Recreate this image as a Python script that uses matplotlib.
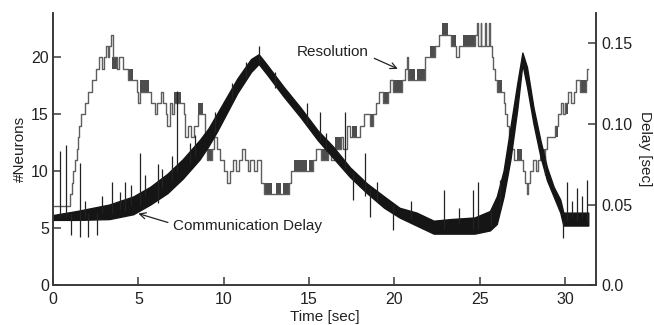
import matplotlib.pyplot as plt

plt.rcParams['font.family'] = ['Liberation Sans', 'DejaVu Sans']

# 分解能 (#Neurons) の階段状データ
res_t = [0.0, 1.0, 1.1, 1.2, 1.3, 1.38, 1.46, 1.55, 1.65, 1.85,
         2.05, 2.3, 2.5, 2.7, 2.9, 3.0, 3.1, 3.2, 3.3, 3.4,
         3.5, 3.75, 3.85, 4.1, 4.4, 4.7, 4.9, 5.0, 5.1, 5.65,
         5.75, 5.95, 6.1, 6.3, 6.45, 6.6, 6.7, 6.85, 7.0, 7.1,
         7.5, 7.65, 7.75, 7.9, 8.1, 8.25, 8.5, 8.8, 8.9, 9.0,
         9.3, 9.45, 9.6, 9.8, 10.0, 10.2, 10.35, 10.55, 10.75, 10.9,
         11.1, 11.25, 11.4, 11.55, 11.8, 11.95, 12.2, 12.35, 13.8, 13.95,
         14.1, 15.25, 15.4, 15.7, 16.1, 16.3, 16.5, 16.9, 17.0, 17.2,
         17.4, 17.5, 17.8, 18.0, 18.2, 18.6, 18.75, 18.9, 19.1, 19.35,
         19.6, 19.75, 19.9, 20.45, 20.6, 20.75, 20.8, 21.8, 22.1, 22.4,
         22.6, 22.8, 23.15, 23.3, 23.6, 23.8, 24.0, 24.7, 24.85, 24.9,
         25.05, 25.1, 25.3, 25.35, 25.55, 25.6, 25.7, 25.8, 25.9, 26.0,
         26.3, 26.4, 26.5, 26.6, 26.7, 26.85, 27.0, 27.2, 27.5, 27.55,
         27.65, 27.75, 27.85, 27.95, 28.1, 28.3, 28.4, 28.55, 28.85, 28.95,
         29.15, 29.4, 29.6, 29.75, 29.85, 30.0, 30.2, 30.35, 30.5, 30.65,
         30.9, 31.2, 31.3, 31.36]
res_n = [7, 8, 9, 10, 11, 12, 13, 14, 15, 16,
         17, 18, 19, 20, 19, 20, 21, 20, 21, 22,
         20, 19, 20, 19, 18, 18, 17, 16, 17, 17,
         16, 15, 16, 17, 16, 15, 14, 16, 15, 16,
         16, 15, 13, 14, 13, 14, 15, 15, 12, 11,
         12, 13, 12, 11, 10, 9, 10, 11, 10, 11,
         12, 11, 10, 11, 10, 11, 9, 8, 9, 10,
         10, 11, 12, 11, 12, 11, 12, 13, 12, 14,
         13, 13, 13, 14, 15, 14, 15, 16, 17, 16,
         17, 18, 17, 18, 19, 20, 18, 20, 20, 21,
         22, 22, 22, 21, 20, 21, 21, 22, 23, 21,
         23, 21, 23, 21, 23, 21, 20, 19, 18, 17,
         17, 16, 15, 14, 13, 12, 11, 11, 11, 10,
         9, 8, 9, 10, 11, 10, 11, 11, 12, 13,
         13, 14, 15, 16, 15, 16, 17, 16, 17, 18,
         17, 18, 19, 19]

# 値が細かく振動して塗りつぶしに見える区間
blk_t0 = [3.45, 4.4, 5.1, 7.1, 8.5, 9.0, 12.35, 13.05, 13.45, 14.1, 15.0, 15.7,
          16.5, 17.5, 18.6, 19.35, 19.9, 20.8, 21.35, 22.1, 22.8, 23.3, 24.0,
          26.0, 27.2, 28.55, 29.4, 30.0, 30.9]
blk_t1 = [3.75, 4.7, 5.65, 7.5, 8.8, 9.3, 12.85, 13.35, 13.8, 14.9, 15.25, 16.1,
          16.9, 17.8, 18.75, 19.6, 20.45, 21.2, 21.8, 22.4, 23.15, 23.6, 24.7,
          26.3, 27.5, 28.85, 29.6, 30.2, 31.2]
blk_lo = [19, 18, 17, 16, 15, 11, 8, 8, 8, 10, 10, 11,
          12, 13, 14, 16, 17, 18, 18, 20, 22, 21, 21,
          17, 11, 11, 13, 15, 17]

# 通信遅延 (秒): ノイズの帯の下端と上端
delay_t = [0.0, 1.4, 3.3, 4.7, 5.7, 6.7, 7.6, 8.6, 9.1, 9.6,
           10.2, 10.8, 11.6, 12.05, 12.5, 13.5, 14.5, 15.5, 16.4, 17.4,
           18.4, 19.4, 20.3, 21.3, 22.3, 23.3, 24.7, 25.6, 26.0, 26.4,
           26.8, 27.2, 27.5, 27.77, 28.15, 28.55, 28.94, 29.33, 29.72, 29.9,
           31.36]
delay_lo = [0.0405, 0.0405, 0.041, 0.044, 0.050, 0.057, 0.066, 0.078, 0.086, 0.095,
            0.107, 0.119, 0.132, 0.137, 0.131, 0.117, 0.104, 0.090, 0.079, 0.067,
            0.057, 0.048, 0.042, 0.037, 0.032, 0.032, 0.032, 0.034, 0.038, 0.055,
            0.078, 0.109, 0.137, 0.123, 0.100, 0.080, 0.065, 0.055, 0.045, 0.037,
            0.037]
delay_hi = [0.0435, 0.046, 0.050, 0.055, 0.061, 0.069, 0.078, 0.090, 0.097, 0.106,
            0.117, 0.128, 0.140, 0.143, 0.137, 0.123, 0.110, 0.096, 0.086, 0.073,
            0.063, 0.055, 0.048, 0.045, 0.040, 0.041, 0.042, 0.046, 0.055, 0.071,
            0.098, 0.125, 0.144, 0.135, 0.110, 0.090, 0.073, 0.061, 0.053, 0.045,
            0.045]

# 遅延のスパイク
spk_t = [0.41, 0.76, 1.05, 1.58, 2.07, 2.56, 3.44, 4.22, 5.1, 6.16,
         7.25, 9.5, 12.05, 14.9, 15.65, 17.1, 17.6, 18.3, 18.55, 19.9,
         22.9, 24.6, 24.9, 25.65, 29.9, 30.1, 30.7, 31.3,
         1.9, 2.9, 3.9, 4.6, 5.4, 6.4, 7.0, 8.0, 8.3, 10.5,
         11.3, 13.0, 16.0, 19.0, 21.0, 23.8, 26.2, 28.8, 30.4, 31.0]
spk_lo = [0.042, 0.042, 0.031, 0.030, 0.030, 0.031, 0.045, 0.046, 0.050, 0.051,
          0.070, 0.095, 0.138, 0.100, 0.090, 0.072, 0.053, 0.055, 0.042, 0.034,
          0.035, 0.035, 0.035, 0.036, 0.029, 0.040, 0.040, 0.040,
          0.042, 0.045, 0.047, 0.050, 0.055, 0.060, 0.065, 0.075, 0.080, 0.115,
          0.128, 0.122, 0.083, 0.052, 0.041, 0.038, 0.048, 0.068, 0.042, 0.042]
spk_hi = [0.083, 0.087, 0.045, 0.076, 0.045, 0.045, 0.064, 0.064, 0.082, 0.075,
          0.120, 0.107, 0.148, 0.113, 0.107, 0.107, 0.070, 0.082, 0.060, 0.050,
          0.059, 0.059, 0.064, 0.046, 0.040, 0.064, 0.060, 0.065,
          0.052, 0.055, 0.058, 0.062, 0.068, 0.072, 0.080, 0.088, 0.093, 0.125,
          0.138, 0.132, 0.094, 0.064, 0.052, 0.048, 0.065, 0.080, 0.052, 0.055]

xticks = [0, 5, 10, 15, 20, 25, 30]
yticks_left = [0, 5, 10, 15, 20]
yticks_right = [0.0, 0.05, 0.10, 0.15]
yticklabels_right = ['0.0', '0.05', '0.10', '0.15']

fig, ax = plt.subplots(figsize=(6.54, 3.25), dpi=100)
fig.subplots_adjust(left=0.081, right=0.911, bottom=0.122, top=0.96)

ax.plot(res_t, res_n, drawstyle='steps-post', color='#5e5e5e', lw=1.0)
ax.bar(blk_t0, 1, width=[b - a for a, b in zip(blk_t0, blk_t1)],
       bottom=blk_lo, align='edge', color='#4d4d4d', lw=0)

ax2 = ax.twinx()
ax2.fill_between(delay_t, delay_lo, delay_hi, color='#151515', lw=1.0,
                 edgecolor='#151515')
ax2.vlines(spk_t, spk_lo, spk_hi, color='#222222', lw=0.9)

ax.set_xlim(0, 31.8)
ax.set_ylim(0, 23.9)
ax2.set_ylim(0, 0.1685)
ax.set_xticks(xticks)
ax.set_yticks(yticks_left)
ax2.set_yticks(yticks_right, yticklabels_right)

for a in (ax, ax2):
    a.spines['top'].set_visible(False)
    for s in a.spines.values():
        s.set_color('#3a3a3a')
        s.set_linewidth(1.2)
    a.tick_params(direction='in', length=6, width=1.1, color='#3a3a3a',
                  labelsize=11.5, labelcolor='#222222')
ax.tick_params(axis='x', pad=5)
ax.tick_params(axis='y', pad=3)
ax2.tick_params(axis='y', pad=4)

ax.set_xlabel('Time [sec]', fontsize=11, color='#222222', labelpad=2)
ax.set_ylabel('#Neurons', fontsize=11, color='#222222', labelpad=3)
ax2.set_ylabel('Delay [sec]', fontsize=11, color='#222222', rotation=270,
               labelpad=14)

ax.annotate('Resolution', xy=(20.2, 19.0), xytext=(14.3, 20.5),
            ha='left', va='center', fontsize=11, color='#222222',
            arrowprops=dict(arrowstyle='->', color='#222222', lw=0.9,
                            relpos=(1.0, 0.2), shrinkA=2, shrinkB=0))
ax.annotate('Communication Delay', xy=(5.0, 6.3), xytext=(7.05, 5.25),
            ha='left', va='center', fontsize=11, color='#222222',
            arrowprops=dict(arrowstyle='->', color='#222222', lw=0.9,
                            relpos=(0.0, 0.6), shrinkA=2, shrinkB=0))

fig.savefig('out.png')
